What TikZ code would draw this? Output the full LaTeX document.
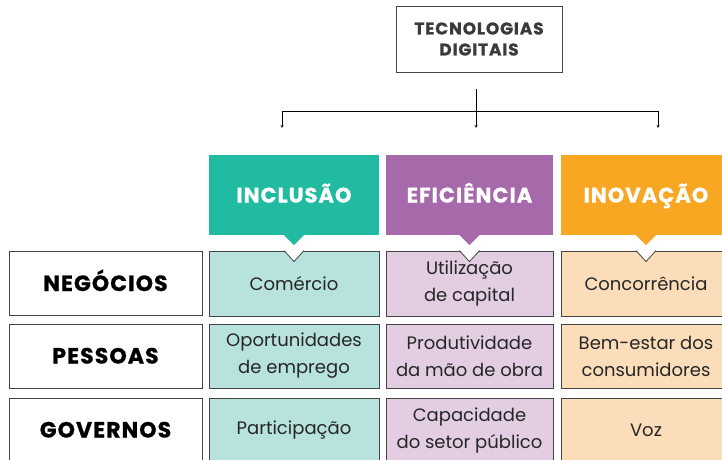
\documentclass[tikz,border=0pt]{standalone}
\usepackage{fontspec}
\setmainfont{Poppins}
\newfontfamily\capsfont[LetterSpace=5, BoldFeatures={FakeBold=0.8}]{Poppins}
\usetikzlibrary{calc}

\definecolor{inclusao}{HTML}{21BBA1}
\definecolor{eficiencia}{HTML}{A66AAA}
\definecolor{inovacao}{HTML}{F8A723}
\definecolor{inclusaocell}{HTML}{B8E2DE}
\definecolor{eficienciacell}{HTML}{E2CDE3}
\definecolor{inovacaocell}{HTML}{FBDDB9}
\definecolor{linegray}{HTML}{444444}
\definecolor{titlegray}{HTML}{3A3A3A}

\begin{document}
\begin{tikzpicture}[x=1pt, y=-1pt, > = stealth,
    box/.style = {draw=linegray, line width=0.8pt, inner sep=0pt},
    cell/.style = {box, minimum height=64pt, align=center, text=black!85,
      font=\fontsize{18}{27}\selectfont},
    rowlabel/.style = {box, minimum width=193pt, minimum height=64pt, text=black,
      text height=15pt, text depth=0pt,
      font=\capsfont\bfseries\fontsize{22}{24}\selectfont},
    header/.style = {minimum height=80pt, inner sep=0pt, text=white,
      text height=15pt, text depth=0pt,
      font=\capsfont\bfseries\fontsize{21}{24}\selectfont}]
  \useasboundingbox (0,0) rectangle (722,459);

  % top box and the split
  \node[box, minimum width=166pt, minimum height=66pt, align=center, text=titlegray,
    font=\capsfont\bfseries\fontsize{17}{21}\selectfont] (tec) at (479,39) {TECNOLOGIAS\\DIGITAIS};
  \coordinate (stem) at (476,89);
  \coordinate (split) at (476,111);
  \coordinate (left) at (282,111);
  \coordinate (right) at (658,111);
  \coordinate (left-end) at (282,128);
  \coordinate (mid-end) at (476,128);
  \coordinate (right-end) at (658,128);
  \draw (stem) -- (split);
  \draw (left) -- (right);
  \draw[->] (left) -- (left-end);
  \draw[->] (split) -- (mid-end);
  \draw[->] (right) -- (right-end);

  % headers
  \node[header, fill=inclusao, minimum width=170pt] (inc) at (294,195) {INCLUSÃO};
  \node[header, fill=eficiencia, minimum width=167pt] (efi) at (469.5,195) {EFICIÊNCIA};
  \node[header, fill=inovacao, minimum width=170pt] (ino) at (646,195) {INOVAÇÃO};
  \fill[inclusao] ([xshift=-10pt]inc.south) -- ([xshift=10pt]inc.south) -- ([yshift=-10pt]inc.south) -- cycle;
  \fill[eficiencia] ([xshift=-10pt]efi.south) -- ([xshift=10pt]efi.south) -- ([yshift=-10pt]efi.south) -- cycle;
  \fill[inovacao] ([xshift=-10pt]ino.south) -- ([xshift=10pt]ino.south) -- ([yshift=-10pt]ino.south) -- cycle;

  % row labels
  \node[rowlabel] (neg) at (105.5,283.5) {NEGÓCIOS};
  \node[rowlabel] (pes) at (105.5,356) {PESSOAS};
  \node[rowlabel] (gov) at (105.5,430) {GOVERNOS};

  % cells
  \node[cell, fill=inclusaocell, minimum width=170pt, minimum height=65pt] (neg-inc) at (294,283.5) {Comércio};
  \node[cell, fill=eficienciacell, minimum width=167pt, minimum height=65pt] (neg-efi) at (469.5,283.5) {Utilização\\de capital};
  \node[cell, fill=inovacaocell, minimum width=170pt, minimum height=65pt] (neg-ino) at (646,283.5) {Concorrência};
  \node[cell, fill=inclusaocell, minimum width=170pt] (pes-inc) at (294,356) {Oportunidades\\de emprego};
  \node[cell, fill=eficienciacell, minimum width=167pt] (pes-efi) at (469.5,356) {Produtividade\\da mão de obra};
  \node[cell, fill=inovacaocell, minimum width=170pt] (pes-ino) at (646,356) {Bem-estar dos\\consumidores};
  \node[cell, fill=inclusaocell, minimum width=170pt] (gov-inc) at (294,430) {Participação};
  \node[cell, fill=eficienciacell, minimum width=167pt] (gov-efi) at (469.5,430) {Capacidade\\do setor público};
  \node[cell, fill=inovacaocell, minimum width=170pt] (gov-ino) at (646,430) {Voz};

  % notches under the pointers
  \fill[white] ([shift={(-10pt,0.6pt)}]neg-inc.north) -- ([yshift=-11pt]neg-inc.north) -- ([shift={(10pt,0.6pt)}]neg-inc.north) -- cycle;
  \draw[linegray, line width=0.8pt] ([xshift=-10pt]neg-inc.north) -- ([yshift=-11pt]neg-inc.north) -- ([xshift=10pt]neg-inc.north);
  \fill[white] ([shift={(-10pt,0.6pt)}]neg-efi.north) -- ([yshift=-11pt]neg-efi.north) -- ([shift={(10pt,0.6pt)}]neg-efi.north) -- cycle;
  \draw[linegray, line width=0.8pt] ([xshift=-10pt]neg-efi.north) -- ([yshift=-11pt]neg-efi.north) -- ([xshift=10pt]neg-efi.north);
  \fill[white] ([shift={(-10pt,0.6pt)}]neg-ino.north) -- ([yshift=-11pt]neg-ino.north) -- ([shift={(10pt,0.6pt)}]neg-ino.north) -- cycle;
  \draw[linegray, line width=0.8pt] ([xshift=-10pt]neg-ino.north) -- ([yshift=-11pt]neg-ino.north) -- ([xshift=10pt]neg-ino.north);
\end{tikzpicture}
\end{document}
